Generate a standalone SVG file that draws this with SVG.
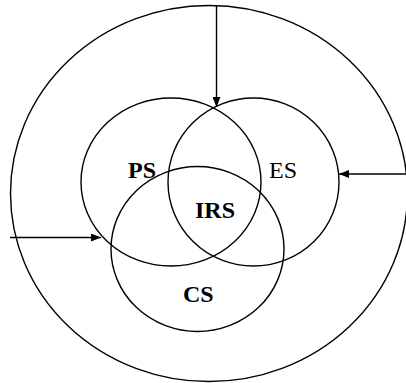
<svg xmlns="http://www.w3.org/2000/svg" width="406" height="383" viewBox="0 0 406 383">
<style>
.c{fill:none;stroke:#000;stroke-width:1.4}
.l{stroke:#000;stroke-width:1.4;fill:none}
.t{font-family:"Liberation Serif",serif;font-size:24px;fill:#000}
.b{font-weight:bold}
</style>
<defs>
<marker id="ah" viewBox="0 0 10 8" refX="10" refY="4" markerWidth="10" markerHeight="8" markerUnits="userSpaceOnUse" orient="auto">
<path d="M0,0 L10,4 L0,8 Z" fill="#000"/>
</marker>
</defs>
<rect width="406" height="383" fill="#fff"/>
<g id="outer"><ellipse class="c" cx="209" cy="193.5" rx="198.5" ry="188"/></g>
<g id="PS"><ellipse class="c" cx="171" cy="182" rx="90" ry="84"/><text class="t b" x="128" y="178">PS</text></g>
<g id="ES"><ellipse class="c" cx="253.5" cy="182" rx="85.5" ry="84"/><text class="t" x="269" y="178" fill="#222">ES</text></g>
<g id="CS"><ellipse class="c" cx="197.5" cy="249" rx="86.5" ry="82.5"/><text class="t b" x="183" y="302">CS</text></g>
<g id="IRS"><text class="t b" x="195" y="218">IRS</text></g>
<g id="connectors">
<line class="l" x1="216.5" y1="5.5" x2="216.5" y2="107" marker-end="url(#ah)"/>
<line class="l" x1="406" y1="174" x2="339" y2="174" marker-end="url(#ah)"/>
<line class="l" x1="10" y1="237.5" x2="101" y2="237.5" marker-end="url(#ah)"/>
</g>
</svg>
